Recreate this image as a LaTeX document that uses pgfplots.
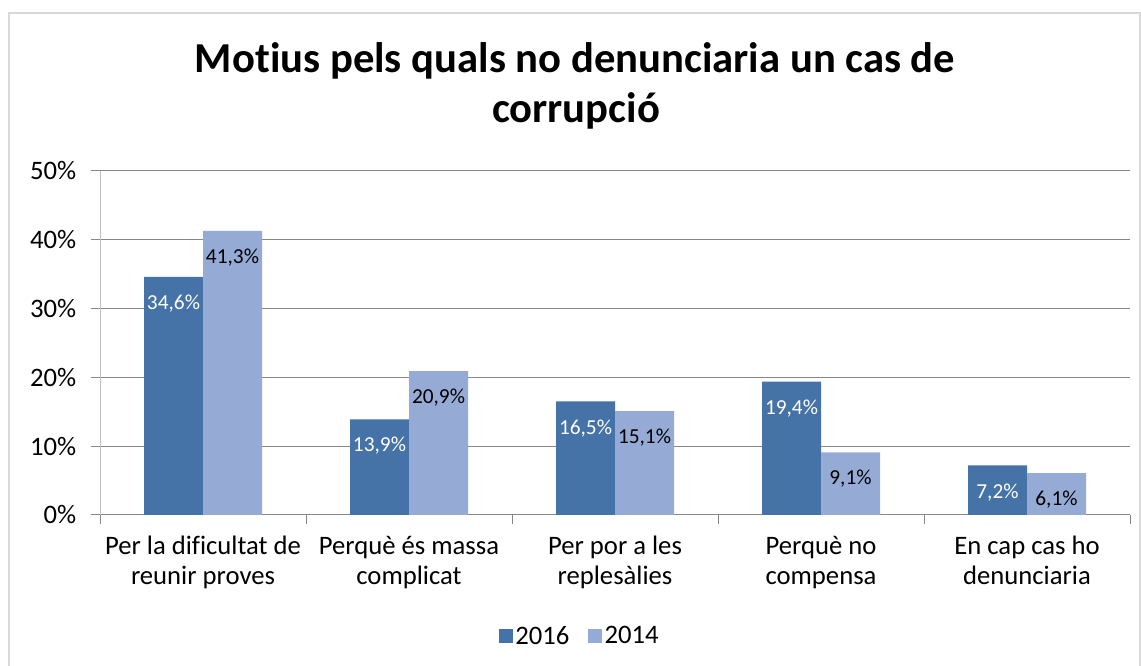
\documentclass[border=0pt]{standalone}
\usepackage{pgfplots}
\pgfplotsset{compat=1.18}
\usepackage{fontspec}
\setmainfont{Carlito}[Ligatures=NoCommon]
\definecolor{c16}{HTML}{4572A7}
\definecolor{c14}{HTML}{95AAD4}
\definecolor{gridc}{HTML}{878787}
\begin{document}
\begin{tikzpicture}[x=0.75pt,y=0.75pt]
\useasboundingbox (0,0) rectangle (1141,666);
\draw[color=gray!30, line width=1.5pt] (8.5,-10) rectangle (1140,653);
\node[font=\fontsize{32}{38}\selectfont\bfseries, anchor=base, inner sep=0pt] at (575,593) {Motius pels quals no denunciaria un cas de};
\node[font=\fontsize{32}{38}\selectfont\bfseries, anchor=base, inner sep=0pt] at (576,543) {corrupció};
\begin{axis}[
  at={(75pt,113.25pt)}, anchor=south west, scale only axis,
  width=772.5pt, height=258pt,
  ymin=0, ymax=50, ytick={0,10,...,50},
  yticklabel={\pgfmathprintnumber{\tick}\%},
  /pgf/number format/assume math mode=true,
  xmin=-0.5, xmax=4.5,
  xtick={-0.5,0.5,...,4.5}, xticklabels={},
  extra x ticks={0,1,2,3,4},
  extra x tick labels={Per la dificultat de\\reunir proves, Perquè és massa\\complicat, Per por a les\\replesàlies, Perquè no\\compensa, En cap cas ho\\denunciaria},
  extra x tick style={major tick length=0pt, xticklabel style={align=center, font=\fontsize{20}{22.5}\selectfont, yshift=-12.5pt}},
  tick align=outside, major tick length=6.75pt,
  tick style={gridc, line width=0.75pt},
  separate axis lines,
  axis x line*=bottom, axis y line*=left,
  x axis line style={gridc, line width=0.75pt},
  y axis line style={gray!50, line width=0.75pt},
  ymajorgrids, grid style={gridc, line width=0.75pt},
  yticklabel style={font=\fontsize{20}{22.5}\selectfont, xshift=-7.5pt},
  ybar=0pt, bar width=44.25pt,
  nodes near coords={\pgfmathprintnumber[fixed,fixed zerofill,precision=1,use comma]{\pgfplotspointmeta}\%},
  every node near coord/.append style={anchor=north, font=\fontsize{16}{19}\selectfont, yshift=-10pt},
  legend style={at={(0.466,-0.352)}, anchor=center, draw=none, font=\fontsize{20}{22.5}\selectfont, legend columns=2, /tikz/every even column/.append style={column sep=12pt}},
  legend image code/.code={\fill[#1] (0pt,-5.25pt) rectangle (10.5pt,5.25pt);},
]
\addplot[fill=c16, draw=none, every node near coord/.append style={text=white}] coordinates {(0,34.6) (1,13.9) (2,16.5) (3,19.4) (4,7.2)};
\addplot[fill=c14, draw=none, every node near coord/.append style={text=black}] coordinates {(0,41.3) (1,20.9) (2,15.1) (3,9.1) (4,6.1)};
\legend{2016,2014}
\end{axis}
\end{tikzpicture}
\end{document}
